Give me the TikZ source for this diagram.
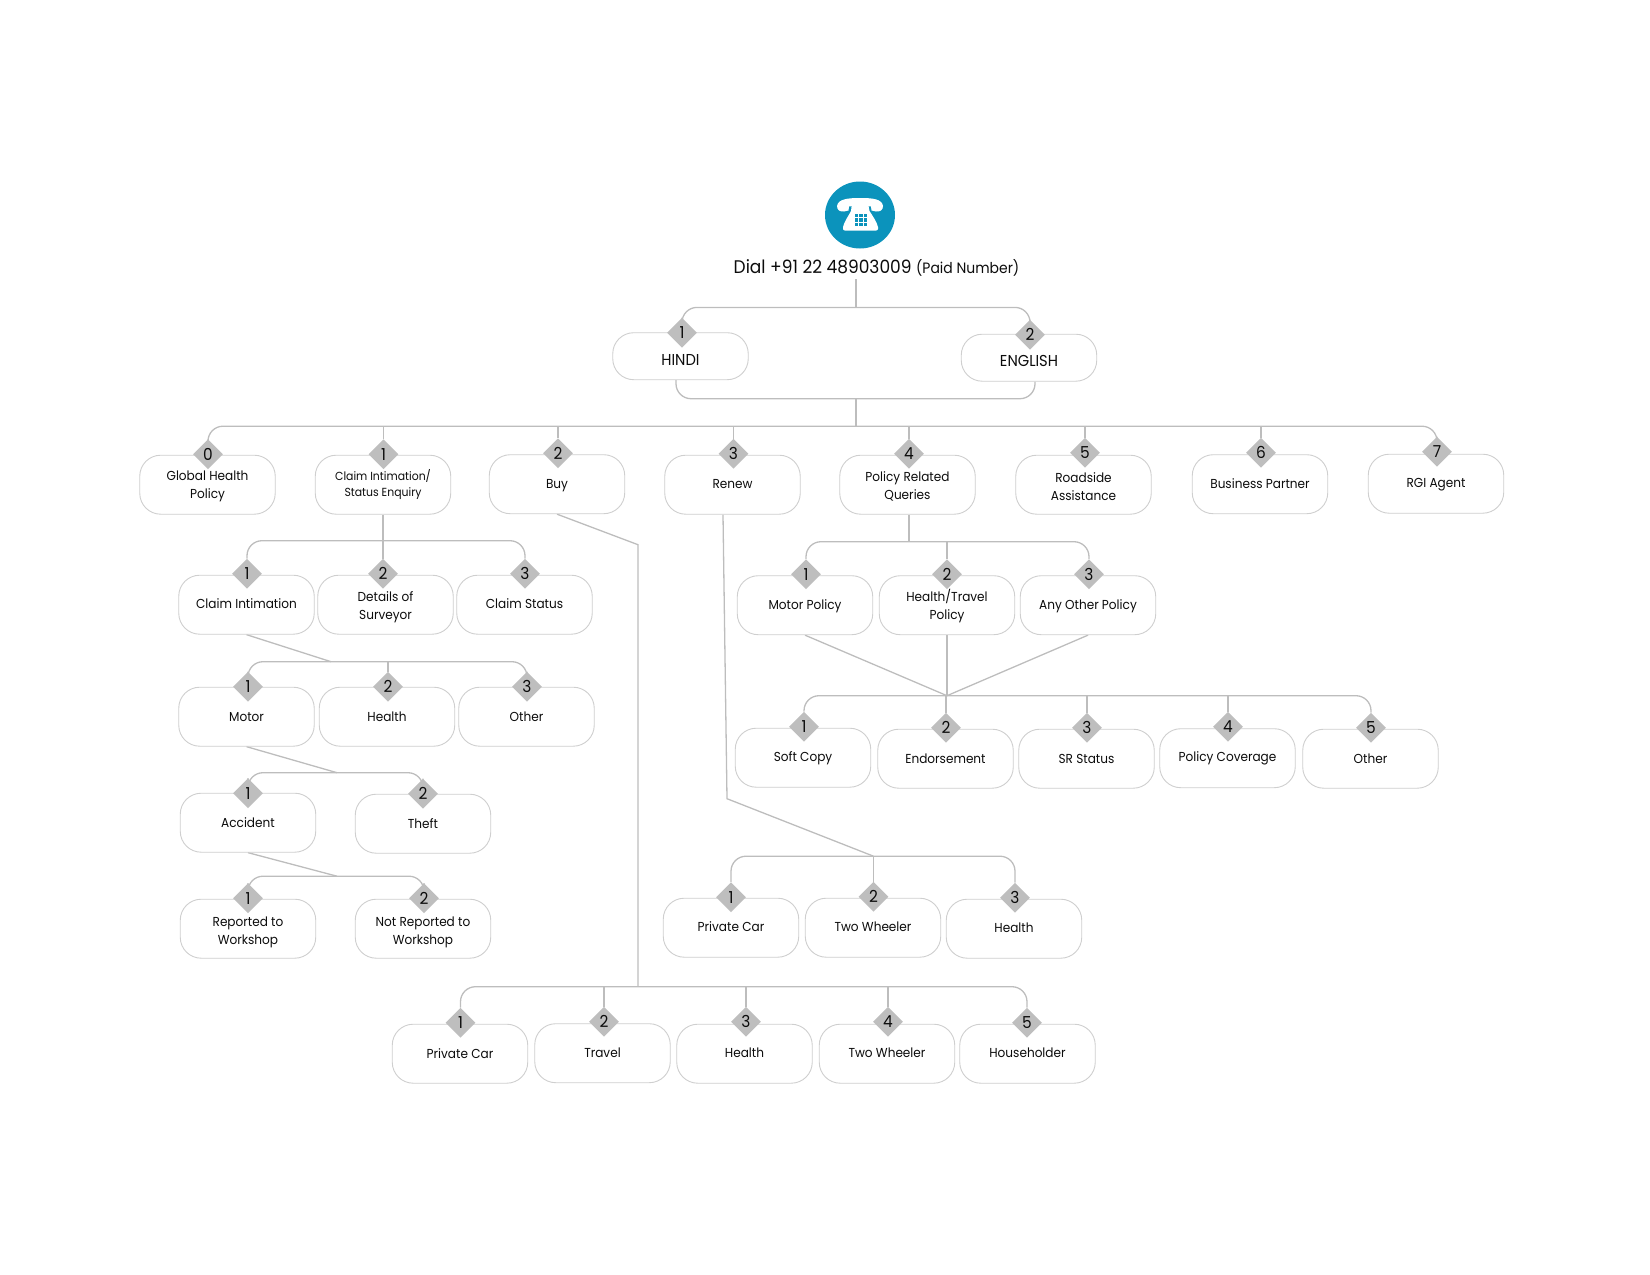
\documentclass[tikz,border=0pt]{standalone}
\usepackage{fontspec}
\setmainfont[FakeStretch=0.93]{Poppins}
\usetikzlibrary{shapes.geometric,backgrounds}
\definecolor{conn}{HTML}{BDBDBD}
\definecolor{bord}{HTML}{CFCFCF}
\definecolor{dia}{HTML}{BEBEBE}
\definecolor{teal}{HTML}{0B93BC}
\definecolor{ink}{HTML}{0C0C0C}
\newcommand{\fs}[2]{\fontsize{#1}{#2}\selectfont}
\tikzset{
  x=1pt,y=-1pt,
  every node/.style={text=ink},
  box/.style={draw=bord,line width=.9pt,fill=white,rounded corners=21pt,minimum width=135.5pt,minimum height=59pt,inner sep=0pt},
  lang/.style={box,minimum height=47pt},
  txt/.style={align=center,inner sep=0pt,font=\fs{13}{18}},
  txtsm/.style={txt,font=\fs{11.7}{15.8}},
  txtlang/.style={txt,font=\fs{15.8}{18}},
  num/.style={diamond,fill=dia,minimum width=30pt,minimum height=30pt,inner sep=0pt,font=\fs{16.5}{18}},
  cn/.style={draw=conn,line width=1.3pt},
  br/.style={cn,rounded corners=15pt},
}
\newcommand{\txtstyle}{txt}
\newcommand{\bx}[6][box]{%
  \node[#1] (#2) at (#3,#4) {};
  \node[\txtstyle] (#2t) at (#3,#4+#5) {#6};}
\newcommand{\dm}[4]{\node[num] (#1) at (#2,#3) {#4};}
\begin{document}
\begin{tikzpicture}
\useasboundingbox (0,0) rectangle (1650,1275);
% phone icon
\node[ellipse,fill=teal,minimum width=70pt,minimum height=67pt,inner sep=0pt] (phone) at (860,215) {};
\fill[white] (837,206) .. controls (838,199) and (848,198) .. (860,198) .. controls (873,198) and (882,199) .. (883,206) .. controls (883,210) and (880,212) .. (876,211.5) -- (871.5,210.5) -- (871,206.5) .. controls (864,205.5) and (856,205.5) .. (849,206.5) -- (848.5,210.5) -- (844,211.5) .. controls (840,212) and (837,210) .. (837,206) -- cycle;
\fill[white] (852,203) -- (868,203) -- (869.5,211) .. controls (872,215) and (877,222) .. (878,227) -- (878,229) .. controls (878,230) and (877,230.5) .. (876,230.5) -- (845,230.5) .. controls (844,230.5) and (843,230) .. (843,229) -- (843,227) .. controls (844,222) and (849,215) .. (851,211) -- cycle;
\foreach \i in {0,1,2}\foreach \j in {0,1,2}{\fill[teal] (855+\i*4.4,214+\j*4.4) rectangle ++(3.3,3.3);}
% title
\node[inner sep=0pt,anchor=center] (dial) at (876.5,267.5) {\fs{18.3}{20}Dial +91 22 48903009 \fs{15}{20}(Paid Number)};
\begin{scope}[yshift=-0.7pt]
% languages
\renewcommand{\txtstyle}{txtlang}
\bx[lang]{hindi}{680.5}{355.5}{4}{HINDI}
\bx[lang]{english}{1029}{357}{3}{ENGLISH}
\renewcommand{\txtstyle}{txt}
\dm{dh}{682}{332}{1}
\dm{de}{1030}{334}{2}
% level 1
\bx{a0}{207.5}{484}{2}{Global Health\\Policy}
\renewcommand{\txtstyle}{txtsm}
\bx{a1}{383}{484}{0}{Claim Intimation/\\Status Enquiry}
\renewcommand{\txtstyle}{txt}
\bx{a2}{557}{483.5}{1.5}{Buy}
\bx{a3}{732.5}{484}{-1}{Renew}
\bx{a4}{907.5}{484}{2}{Policy Related\\Queries}
\bx{a5}{1083.5}{484}{1.5}{Roadside\\Assistance}
\bx{a6}{1260}{483.5}{-1}{Business Partner}
\bx{a7}{1436}{483}{0.5}{RGI Agent}
\dm{n0}{208}{453.5}{0}
\dm{n1}{383.5}{453.5}{1}
\dm{n2}{558}{452.5}{2}
\dm{n3}{733.5}{453}{3}
\dm{n4}{909}{453}{4}
\dm{n5}{1085}{452}{5}
\dm{n6}{1261}{452}{6}
\dm{n7}{1437}{451}{7}
% claim children
\bx{b1}{246.5}{604}{-1.5}{Claim Intimation}
\bx{b2}{385.5}{604}{3}{Details of\\Surveyor}
\bx{b3}{524.5}{604}{-1.5}{Claim Status}
\dm{nb1}{247}{573}{1}
\dm{nb2}{383}{573}{2}
\dm{nb3}{525}{573}{3}
% intimation children
\bx{c1}{246.5}{716}{0.5}{Motor}
\bx{c2}{387}{716}{0.5}{Health}
\bx{c3}{526.5}{716}{0.5}{Other}
\dm{nc1}{248}{686}{1}
\dm{nc2}{388}{686}{2}
\dm{nc3}{527}{686}{3}
% motor children
\bx{d1}{248}{822}{-0.5}{Accident}
\bx{d2}{423}{823}{-0.5}{Theft}
\dm{nd1}{248}{792.5}{1}
\dm{nd2}{423}{793}{2}
\bx{e1}{248}{928}{4}{Reported to\\Workshop}
\bx{e2}{423}{928}{4}{Not Reported to\\Workshop}
\dm{ne1}{248}{897.5}{1}
\dm{ne2}{424}{897.5}{2}
% policy children
\bx{f1}{805}{604.5}{1.5}{Motor Policy}
\bx{f2}{947}{604.5}{0.5}{Health/Travel\\Policy}
\bx{f3}{1088}{604.5}{1.5}{Any Other Policy}
\dm{nf1}{806}{573.5}{1}
\dm{nf2}{947}{573.5}{2}
\dm{nf3}{1089}{573.5}{3}
\bx{g1}{803}{757}{0.5}{Soft Copy}
\bx{g2}{945.5}{758}{0.5}{Endorsement}
\bx{g3}{1086.5}{758}{0.5}{SR Status}
\bx{g4}{1227.5}{757.5}{0.5}{Policy Coverage}
\bx{g5}{1370.5}{758}{0.5}{Other}
\dm{ng1}{804}{726}{1}
\dm{ng2}{946}{727}{2}
\dm{ng3}{1087}{727}{3}
\dm{ng4}{1228}{726}{4}
\dm{ng5}{1371}{727}{5}
% renew children
\bx{h1}{731}{927}{-1}{Private Car}
\bx{h2}{873}{927}{-1}{Two Wheeler}
\bx{h3}{1014}{928}{-1}{Health}
\dm{nh1}{731}{896.5}{1}
\dm{nh2}{873.5}{896}{2}
\dm{nh3}{1015}{897}{3}
% buy children
\bx{i1}{460}{1053}{-0.5}{Private Car}
\bx{i2}{602.5}{1052.5}{0}{Travel}
\bx{i3}{744.5}{1053}{-0.5}{Health}
\bx{i4}{887}{1053}{-0.5}{Two Wheeler}
\bx{i5}{1027.5}{1053}{-0.5}{Householder}
\dm{ni1}{460.5}{1022}{1}
\dm{ni2}{604}{1021}{2}
\dm{ni3}{746}{1021}{3}
\dm{ni4}{888}{1021}{4}
\dm{ni5}{1027}{1022}{5}
% junctions
\coordinate (jtop) at (856,306.7);
\coordinate (jlow) at (856,398);
\coordinate (jmain) at (856,425.5);
\coordinate (jb) at (383,540);
\coordinate (jf) at (909,541);
\coordinate (jg) at (947,695);
\coordinate (jc) at (331,661);
\coordinate (jd) at (337,772);
\coordinate (je) at (337,875.5);
\coordinate (jh) at (873.5,855.5);
\coordinate (ki) at (638,544);
\coordinate (ji) at (638,986);
\coordinate (kh) at (727,798);
\begin{scope}[on background layer]
\draw[cn] ([yshift=-3pt]dial.south -| jtop) -- (jtop);
\draw[br] (dh.north) |- (jtop) -| (de.north);
\draw[br] (hindi.south -| 676,0) |- (jlow) -| (english.south -| 1035,0);
\draw[cn] (jlow) -- (jmain);
\draw[br] (n0.north) |- (jmain) -| (n7.north);
\foreach \n in {n1,n2,n3,n4,n5,n6}{\draw[cn] (\n.north) -- (\n.north |- jmain);}
% claim
\draw[cn] (a1.south -| jb) -- (nb2.north -| jb);
\draw[br] (nb1.north) |- (jb) -| (nb3.north);
% intimation
\draw[cn] (b1.south) -- (jc);
\draw[br] (nc1.north) |- (jc) -| (nc3.north);
\draw[cn] (nc2.north) -- (nc2.north |- jc);
% motor
\draw[cn] (c1.south) -- (jd);
\draw[br] (nd1.north) |- (jd) -| (nd2.north);
% accident
\draw[cn] (d1.south) -- (je);
\draw[br] (ne1.north) |- (je) -| (ne2.north);
% policy
\draw[cn] (a4.south -| jf) -- (jf);
\draw[br] (nf1.north) |- (jf) -| (nf3.north);
\draw[cn] (nf2.north) -- (nf2.north |- jf);
\draw[cn] (f1.south) -- (jg);
\draw[cn] (f2.south) -- (jg);
\draw[cn] (f3.south) -- (jg);
\draw[br] (ng1.north) |- (jg) -| (ng5.north);
\foreach \n in {ng2,ng3,ng4}{\draw[cn] (\n.north) -- (\n.north |- jg);}
% renew
\draw[cn] (a3.south -| 723,0) -- (kh) -- (jh);
\draw[br] (nh1.north) |- (jh) -| (nh3.north);
\draw[cn] (nh2.north) -- (jh);
% buy
\draw[cn] (a2.south) -- (ki) -- (ji);
\draw[br] (ni1.north) |- (ji) -| (ni5.north);
\foreach \n in {ni2,ni3,ni4}{\draw[cn] (\n.north) -- (\n.north |- ji);}
\end{scope}
\end{scope}
\end{tikzpicture}
\end{document}
